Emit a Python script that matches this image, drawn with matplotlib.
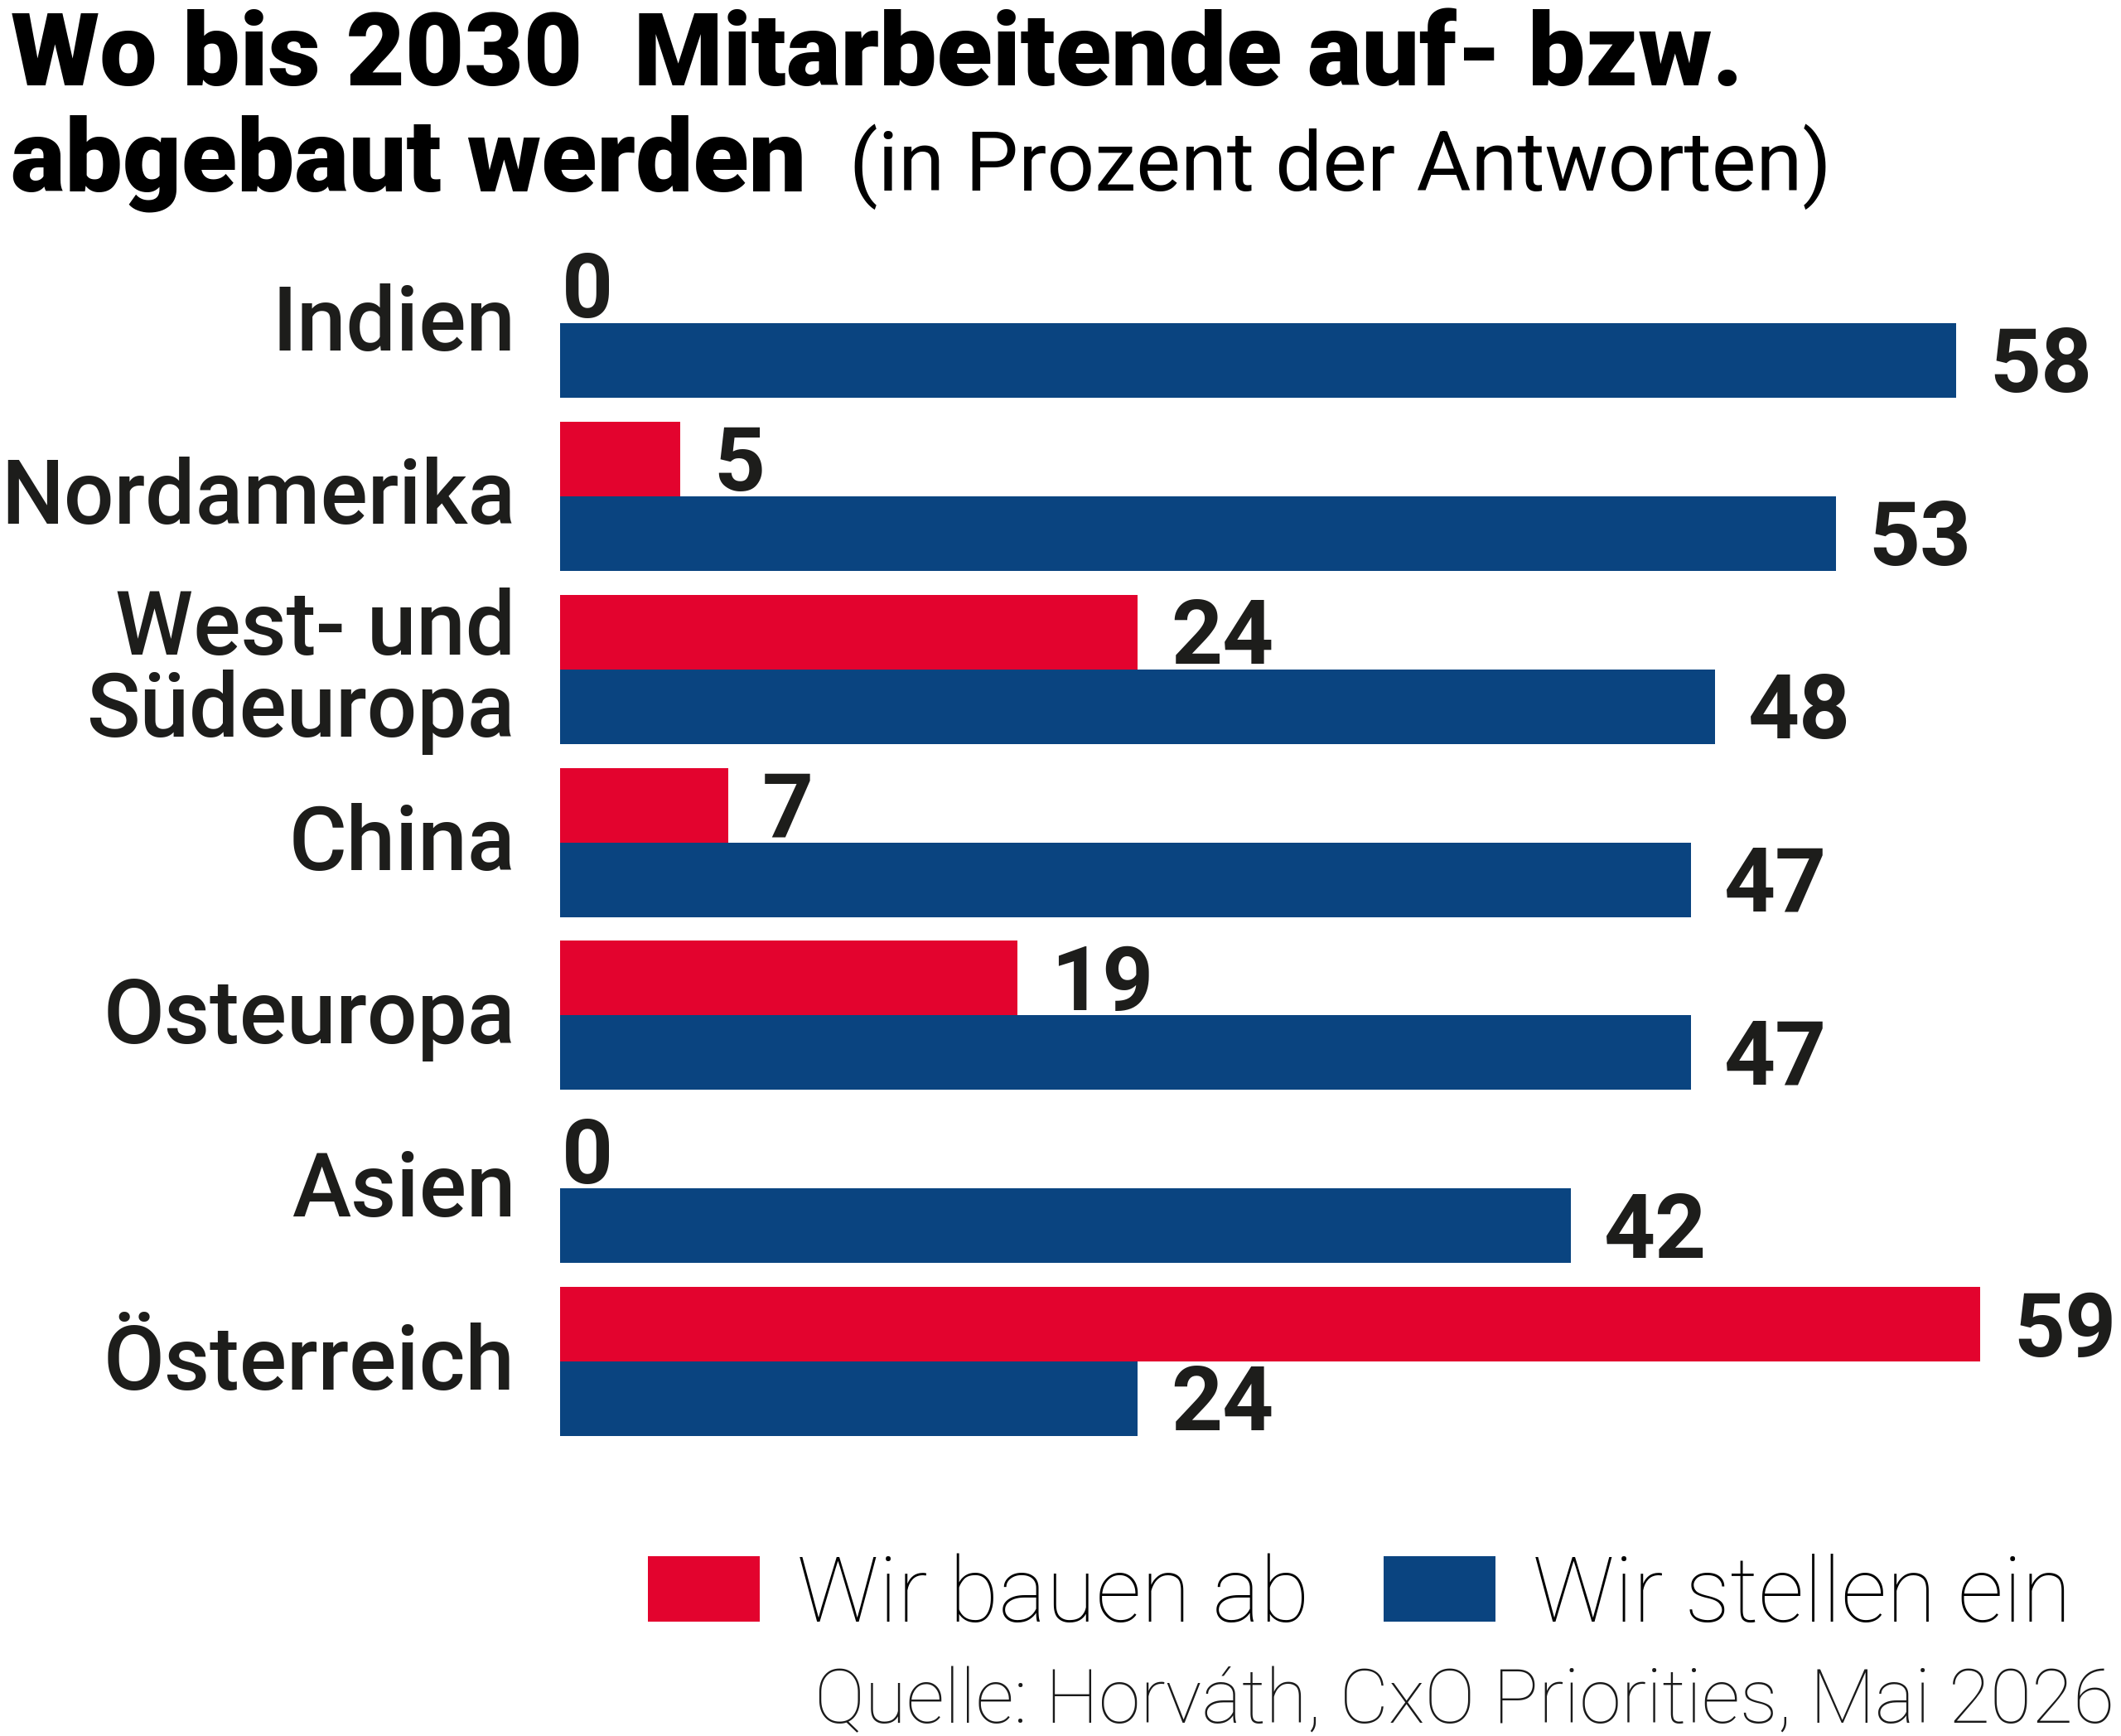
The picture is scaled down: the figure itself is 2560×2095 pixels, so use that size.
import matplotlib
matplotlib.use('Agg')
import matplotlib.pyplot as plt
from matplotlib.patches import Rectangle
from matplotlib.transforms import ScaledTranslation
import numpy as np

# ---------------- data ----------------
categories = ['Indien', 'Nordamerika', 'West- und\nSüdeuropa', 'China',
              'Osteuropa', 'Asien', 'Österreich']
abbau = [0, 5, 24, 7, 19, 0, 59]            # Wir bauen ab
einstellen = [58, 53, 48, 47, 47, 42, 24]   # Wir stellen ein
series_labels = ['Wir bauen ab', 'Wir stellen ein']
title_line1 = 'Wo bis 2030  Mitarbeitende auf- bzw.'
title_line2 = 'abgebaut werden'
subtitle = '(in Prozent der Antworten)'
source = 'Quelle: Horváth, CxO Priorities, Mai 2026'

# ---------------- style ----------------
RED = '#E3032E'
BLUE = '#0A4480'
DARK = '#1d1d1b'
FONT = ['Roboto', 'DejaVu Sans']
plt.rcParams['font.family'] = FONT

W, H = 2560, 2095
DPI = 100
PT = 72 / DPI          # points per pixel
CAP = 0.711            # cap height / em for Roboto


def fx(px):
    return px / W


def fy(py):
    return 1 - py / H


def size_for_cap(cap_px):
    return cap_px / CAP * PT


fig = plt.figure(figsize=(W / DPI, H / DPI), dpi=DPI)
fig.patch.set_facecolor('white')

# axes: x 0..60 -> 676 .. 2419 px ; y boundaries 0..6 -> 390 .. 1643 px
unit_y = (1643 - 390) / 6.0
top_px = 390 - 0.6 * unit_y
bot_px = 1643 + 0.6 * unit_y
ax = fig.add_axes([fx(676), fy(bot_px), 60 * 29.05 / W, (bot_px - top_px) / H])

y = np.arange(len(categories))
h = 90 / unit_y
ax.barh(y - h / 2, abbau, height=h, color=RED, linewidth=0, label=series_labels[0])
ax.barh(y + h / 2, einstellen, height=h, color=BLUE, linewidth=0, label=series_labels[1])
ax.set_xlim(0, 60)
ax.set_ylim(len(categories) - 1 + 0.6, -0.6)

for s in ax.spines.values():
    s.set_visible(False)
ax.set_xticks([])
ax.set_yticks(y)
ax.set_yticklabels(categories, fontsize=size_for_cap(76), fontweight='medium',
                   color=DARK, linespacing=0.95)
ax.tick_params(axis='y', length=0, pad=54 * PT)
shift_up = ScaledTranslation(0, 7 / DPI, fig.dpi_scale_trans)
for lab in ax.get_yticklabels():
    lab.set_transform(lab.get_transform() + shift_up)

val_size = size_for_cap(77)
for vals, off in ((abbau, -h / 2), (einstellen, h / 2)):
    for yi, v in zip(y, vals):
        dx = 40 if v > 0 else 2
        ax.annotate(str(v), xy=(v, yi + off), xytext=(dx * PT, -38.5 * PT),
                    textcoords='offset points', ha='left', va='baseline',
                    fontsize=val_size, fontweight='bold', color=DARK)

fig.canvas.draw()
renderer = fig.canvas.get_renderer()


def fit(t, target_w):
    w = t.get_window_extent(renderer).width
    if w > target_w:
        t.set_fontsize(t.get_fontsize() * target_w / w)


# ---------------- title ----------------
t1 = fig.text(fx(13), fy(103), title_line1, fontsize=size_for_cap(90),
              fontweight='black', color='#000000', va='baseline', ha='left')
fit(t1, 2093)
t2 = fig.text(fx(13), fy(230), title_line2, fontsize=t1.get_fontsize(),
              fontweight='black', color='#000000', va='baseline', ha='left')
fig.canvas.draw()
x_end = t2.get_window_extent(renderer).x1
t3 = fig.text(fx(x_end + 52), fy(230), subtitle, fontsize=size_for_cap(72),
              fontweight='normal', color='#000000', va='baseline', ha='left')
fit(t3, 1190)

# ---------------- legend ----------------
rect_w, rect_h = 135, 79
base = 1957
leg_size = size_for_cap(80)
fig.patches.append(Rectangle((fx(782), fy(base)), rect_w / W, rect_h / H,
                             transform=fig.transFigure, color=RED, linewidth=0))
l1 = fig.text(fx(962), fy(base), series_labels[0], fontsize=leg_size,
              fontweight='light', color='#000000', va='baseline', ha='left')
fit(l1, 618)
fig.canvas.draw()
x2 = l1.get_window_extent(renderer).x1 + 89
fig.patches.append(Rectangle((fx(x2), fy(base)), rect_w / W, rect_h / H,
                             transform=fig.transFigure, color=BLUE, linewidth=0))
l2 = fig.text(fx(x2 + rect_w + 45), fy(base), series_labels[1],
              fontsize=l1.get_fontsize(), fontweight='light', color='#000000',
              va='baseline', ha='left')

# ---------------- source ----------------
src = fig.text(fx(2552), fy(2079), source, fontsize=size_for_cap(65),
               fontweight='light', color='#1a1a1a', va='baseline', ha='right')
fit(src, 1600)

fig.savefig('out.png', dpi=DPI, facecolor='white')
